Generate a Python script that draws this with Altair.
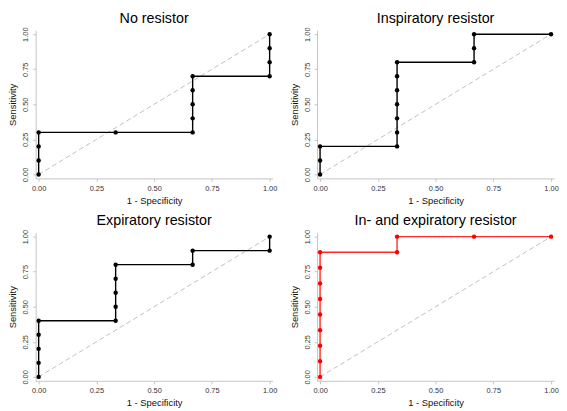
import altair as alt
import pandas as pd

# Data (1 - specificity, sensitivity), in drawing order
titles = ["No resistor", "Inspiratory resistor", "Expiratory resistor", "In- and expiratory resistor"]

fpr_none = [0, 0, 0, 0, 1/3, 2/3, 2/3, 2/3, 2/3, 2/3, 1, 1, 1, 1]
tpr_none = [0, 0.1, 0.2, 0.3, 0.3, 0.3, 0.4, 0.5, 0.6, 0.7, 0.7, 0.8, 0.9, 1.0]

fpr_insp = [0, 0, 0, 1/3, 1/3, 1/3, 1/3, 1/3, 1/3, 1/3, 2/3, 2/3, 2/3, 1]
tpr_insp = [0, 0.1, 0.2, 0.2, 0.3, 0.4, 0.5, 0.6, 0.7, 0.8, 0.8, 0.9, 1.0, 1.0]

fpr_exp = [0, 0, 0, 0, 0, 1/3, 1/3, 1/3, 1/3, 1/3, 2/3, 2/3, 1, 1]
tpr_exp = [0, 0.1, 0.2, 0.3, 0.4, 0.4, 0.5, 0.6, 0.7, 0.8, 0.8, 0.9, 0.9, 1.0]

fpr_both = [0, 0, 0, 0, 0, 0, 0, 0, 0, 1/3, 1/3, 2/3, 1]
tpr_both = [0, 1/9, 2/9, 3/9, 4/9, 5/9, 6/9, 7/9, 8/9, 8/9, 1.0, 1.0, 1.0]

series = [(fpr_none, tpr_none, "black", "black"), (fpr_insp, tpr_insp, "black", "black"),
          (fpr_exp, tpr_exp, "black", "black"), (fpr_both, tpr_both, "#ff2a2a", "#ff0000")]

diag = pd.DataFrame({"x": [0, 1], "y": [0, 1]})

FONT = "Liberation Sans"
xs = alt.Scale(domain=[-0.013, 1.013], nice=False, zero=False)
ys = alt.Scale(domain=[-0.028, 1.028], nice=False, zero=False)

common = dict(values=[0, 0.25, 0.5, 0.75, 1.0], format=".2f", grid=False,
              titleFontSize=9.5, titleFontWeight="normal", titleFont=FONT,
              titleColor="#111", labelFont=FONT, labelFontSize=7.5, labelColor="#333",
              domainColor="#c4c4c4", tickColor="#c4c4c4", tickSize=3)
xaxis = alt.Axis(title="1 - Specificity", labelPadding=3, titlePadding=4, **common)
yaxis = alt.Axis(title="Sensitivity", labelAngle=270, labelAlign="center",
                 labelBaseline="bottom", labelPadding=3, titlePadding=4, **common)


def panel(title, fpr, tpr, lcolor, pcolor):
    df = pd.DataFrame({"x": fpr, "y": tpr, "o": list(range(len(fpr)))})
    enc = dict(x=alt.X("x:Q", scale=xs, axis=xaxis), y=alt.Y("y:Q", scale=ys, axis=yaxis))
    d = alt.Chart(diag).mark_line(color="#c0c0c0", strokeDash=[5, 3], strokeWidth=1).encode(**enc)
    ln = alt.Chart(df).mark_line(color=lcolor, strokeWidth=1.4).encode(order="o:Q", **enc)
    pt = alt.Chart(df).mark_circle(color=pcolor, size=20, opacity=1).encode(**enc)
    return alt.layer(d, ln, pt).properties(
        width=240, height=150,
        title=alt.TitleParams(title, fontSize=14.5, font=FONT, fontWeight="normal",
                              color="black", anchor="middle", offset=1))


charts = [panel(t, f, s, lc, pc) for t, (f, s, lc, pc) in zip(titles, series)]
row1 = alt.hconcat(charts[0], charts[1], spacing=12)
row2 = alt.hconcat(charts[2], charts[3], spacing=12)
chart = alt.vconcat(row1, row2, spacing=8).properties(padding=0).configure_view(stroke=None)

chart.save("out.html", embed_options={"renderer": "svg", "actions": False})
